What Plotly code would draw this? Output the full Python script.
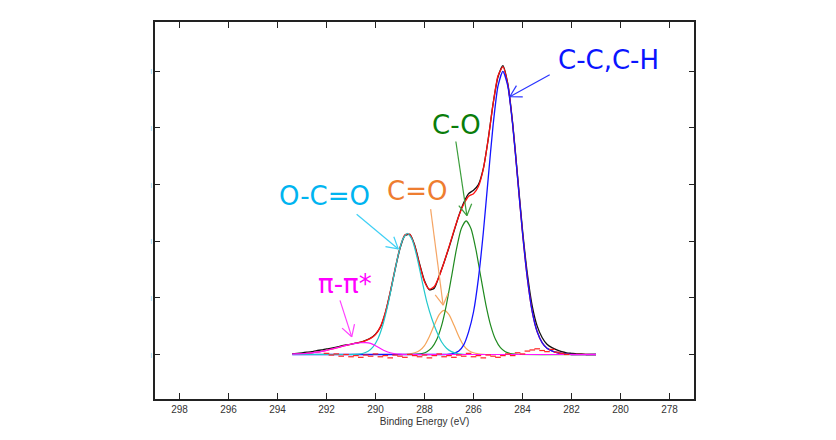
import math
import plotly.graph_objects as go

# ---------------- data ----------------
energy = [293.4, 293.2, 293.0, 292.8, 292.6, 292.4, 292.2, 292.0, 291.8, 291.6,
          291.4, 291.2, 291.0, 290.8, 290.6, 290.4, 290.2, 290.0, 289.8, 289.6,
          289.4, 289.2, 289.0, 288.8, 288.6, 288.4, 288.2, 288.0, 287.8, 287.6,
          287.4, 287.2, 287.0, 286.8, 286.6, 286.4, 286.2, 286.0, 285.8, 285.6,
          285.4, 285.2, 285.0, 284.8, 284.6, 284.4, 284.2, 284.0, 283.8, 283.6,
          283.4, 283.2, 283.0, 282.8, 282.6, 282.4, 282.2, 282.0, 281.8, 281.6,
          281.4, 281.2, 281.0]

measured = [0.01, 0.02, 0.03, 0.04, 0.05, 0.07, 0.08, 0.10, 0.11, 0.13,
            0.15, 0.17, 0.18, 0.20, 0.22, 0.25, 0.29, 0.36, 0.48, 0.73,
            1.09, 1.50, 1.87, 2.10, 2.12, 1.93, 1.60, 1.30, 1.14, 1.17,
            1.39, 1.63, 1.89, 2.17, 2.45, 2.68, 2.84, 2.90, 3.00, 3.28,
            3.80, 4.43, 4.90, 5.10, 4.78, 4.08, 3.15, 2.20, 1.42, 0.85,
            0.50, 0.30, 0.18, 0.12, 0.08, 0.05, 0.03, 0.02, 0.01, 0.01,
            0.00, 0.00, 0.00]

fit_envelope = [0.005, 0.009, 0.013, 0.020, 0.029, 0.041, 0.056, 0.074, 0.094, 0.116,
                0.139, 0.162, 0.181, 0.201, 0.220, 0.246, 0.284, 0.350, 0.492, 0.742,
                1.101, 1.515, 1.889, 2.114, 2.122, 1.917, 1.582, 1.285, 1.153, 1.200,
                1.380, 1.628, 1.900, 2.184, 2.444, 2.651, 2.795, 2.838, 2.966, 3.274,
                3.798, 4.425, 4.920, 5.077, 4.769, 4.060, 3.113, 2.150, 1.340, 0.750,
                0.400, 0.210, 0.110, 0.065, 0.035, 0.018, 0.008, 0.0, 0.0, 0.0,
                0.0, 0.0, 0.0]

residual = [None, None, None, None, None, None, None, 0.02, -0.01, 0.01,
            -0.03, 0.00, -0.04, -0.02, -0.05, -0.01, -0.03, 0.01, -0.04, -0.02,
            -0.06, -0.01, -0.03, -0.05, 0.00, -0.02, -0.04, -0.01, -0.06, -0.02,
            0.01, -0.04, -0.02, -0.05, -0.01, -0.03, 0.02, -0.04, -0.02, -0.06,
            -0.01, -0.03, -0.05, -0.02, 0.01, -0.02, 0.03, 0.01, 0.06, 0.08,
            0.10, 0.07, 0.05, 0.09, 0.04, 0.02, 0.00, None, None, None,
            None, None, None]

cc_energy = [293.4, 287.2, 287.0, 286.8, 286.6, 286.4, 286.2, 286.0, 285.8, 285.6,
             285.4, 285.2, 285.0, 284.8, 284.6, 284.4, 284.2, 284.0, 283.8, 283.6,
             283.4, 283.2, 283.0, 282.8, 282.6, 282.4, 282.2, 282.0, 281.0]
cc_counts = [0, 0, 0.005, 0.02, 0.06, 0.17, 0.40, 0.75, 1.34, 2.15,
             3.11, 4.05, 4.74, 5.00, 4.74, 4.05, 3.11, 2.15, 1.34, 0.75,
             0.40, 0.21, 0.11, 0.065, 0.035, 0.018, 0.008, 0, 0]

co_energy = [293.4, 288.5, 288.3, 288.1, 287.9, 287.7, 287.5, 287.3, 287.1, 286.9,
             286.7, 286.5, 286.3, 286.1, 285.9, 285.7, 285.5, 285.3, 285.1, 284.9,
             284.7, 284.5, 284.3, 284.1, 281.0]
co_counts = [0, 0, 0.005, 0.017, 0.048, 0.120, 0.264, 0.515, 0.891, 1.365,
             1.85, 2.22, 2.36, 2.22, 1.85, 1.365, 0.891, 0.515, 0.264, 0.120,
             0.048, 0.017, 0.005, 0, 0]

c_o_energy = [293.4, 289.0, 288.8, 288.6, 288.4, 288.2, 288.0, 287.8, 287.6, 287.4,
              287.2, 287.0, 286.8, 286.6, 286.4, 286.2, 286.0, 285.8, 285.6, 285.4,
              281.0]
c_o_counts = [0, 0, 0.004, 0.012, 0.03, 0.07, 0.156, 0.316, 0.52, 0.705,
              0.78, 0.705, 0.52, 0.316, 0.156, 0.07, 0.03, 0.012, 0.004, 0,
              0]

occ_energy = [293.4, 291.1, 290.9, 290.7, 290.5, 290.3, 290.1, 289.9, 289.7, 289.5,
              289.3, 289.1, 288.9, 288.7, 288.5, 288.3, 288.1, 287.9, 287.7, 287.5,
              287.3, 287.1, 286.9, 286.7, 286.5, 286.3, 281.0]
occ_counts = [0, 0, 0.003, 0.0075, 0.022, 0.057, 0.134, 0.279, 0.520, 0.865,
              1.286, 1.707, 2.022, 2.14, 2.022, 1.707, 1.30, 0.92, 0.63, 0.40,
              0.22, 0.11, 0.05, 0.02, 0.005, 0, 0]

pi_energy = [293.4, 293.2, 293.0, 292.8, 292.6, 292.4, 292.2, 292.0, 291.8, 291.6,
             291.4, 291.2, 291.0, 290.8, 290.6, 290.4, 290.2, 290.0, 289.8, 289.6,
             289.4, 289.2, 289.0, 288.8, 281.0]
pi_counts = [0.005, 0.009, 0.013, 0.020, 0.029, 0.041, 0.056, 0.074, 0.094, 0.116,
             0.139, 0.162, 0.181, 0.197, 0.207, 0.210, 0.195, 0.154, 0.105, 0.061,
             0.031, 0.013, 0.005, 0, 0]

x_ticks = [298, 296, 294, 292, 290, 288, 286, 284, 282, 280, 278]
y_ticks = [0, 1, 2, 3, 4, 5]

# ---------------- figure ----------------
W, H = 836, 440
ML, MR, MT, MB = 147, 150, 12, 49   # page body adds an 8px offset
X_RANGE = [299, 277]
Y_RANGE = [-0.786, 5.87]
sx = (W - ML - MR) / (X_RANGE[0] - X_RANGE[1])
sy = (H - MT - MB) / (Y_RANGE[1] - Y_RANGE[0])

fig = go.Figure()

def line_trace(x, y, color, width=1.3):
    fig.add_trace(go.Scatter(x=x, y=y, mode="lines",
                             line=dict(color=color, width=width, shape="spline", smoothing=0.6),
                             hoverinfo="skip", showlegend=False))

line_trace(energy, measured, "#111111", 1.3)
line_trace(energy, fit_envelope, "#ff1010", 1.3)
line_trace(c_o_energy, c_o_counts, "#f5a55a", 1.2)
line_trace(co_energy, co_counts, "#1f8a1f", 1.2)
line_trace(cc_energy, cc_counts, "#1414ff", 1.3)
line_trace(occ_energy, occ_counts, "#22c8cc", 1.2)
line_trace(pi_energy, pi_counts, "#ff14ff", 1.2)

fig.add_trace(go.Scatter(x=energy, y=residual, mode="markers",
                         marker=dict(symbol="line-ew", size=4,
                                     line=dict(color="#ff2020", width=1.2)),
                         hoverinfo="skip", showlegend=False))

shapes = []
def arrow(x0, y0, x1, y1, color):
    shapes.append(dict(type="line", xref="x", yref="y", x0=x0, y0=y0, x1=x1, y1=y1,
                       line=dict(color=color, width=1.2)))
    dxp = -(x0 - x1) * sx
    dyp = -(y0 - y1) * sy
    L = math.hypot(dxp, dyp)
    ux, uy = dxp / L, dyp / L
    for a in (math.radians(30), math.radians(-30)):
        rx = ux * math.cos(a) - uy * math.sin(a)
        ry = ux * math.sin(a) + uy * math.cos(a)
        xe = x1 - rx * 13 / sx
        ye = y1 - ry * 13 / sy
        shapes.append(dict(type="line", xref="x", yref="y", x0=x1, y0=y1, x1=xe, y1=ye,
                           line=dict(color=color, width=1.2)))

arrow(282.89, 4.94, 284.52, 4.55, "#2a35ff")
arrow(286.72, 3.76, 286.27, 2.45, "#3a9d3a")
arrow(287.75, 2.565, 287.24, 0.87, "#f5a565")
arrow(290.77, 2.477, 289.07, 1.863, "#3fd0f5")
arrow(291.45, 0.956, 290.97, 0.312, "#ff40ff")

labels = [
    ("C-C,C-H", 280.48, 5.20, "#0a14ff"),
    ("C-O", 286.70, 4.06, "#0a7d0a"),
    ("C=O", 288.29, 2.886, "#ee7d30"),
    ("O-C=O", 292.08, 2.80, "#00b4f0"),
    ("π-π*", 291.25, 1.237, "#ff00ff"),
]
annotations = [dict(text=t, x=x, y=y, xref="x", yref="y", showarrow=False,
                    font=dict(family="DejaVu Sans", size=26, color=c))
               for t, x, y, c in labels]

fig.update_layout(
    width=W, height=H,
    margin=dict(l=ML, r=MR, t=MT, b=MB, pad=0),
    paper_bgcolor="white", plot_bgcolor="white",
    shapes=shapes, annotations=annotations,
    showlegend=False,
)
fig.update_xaxes(range=X_RANGE, tickvals=x_ticks, ticktext=[str(v) for v in x_ticks],
                 ticks="inside", ticklen=6, tickwidth=1, tickcolor="#222",
                 showline=True, linecolor="#222", linewidth=1.5, mirror="ticks",
                 showgrid=False, zeroline=False,
                 tickfont=dict(family="Liberation Sans", size=10, color="#333"),
                 title=dict(text="Binding Energy (eV)", standoff=4,
                            font=dict(family="Liberation Sans", size=10, color="#333")))
fig.update_yaxes(range=Y_RANGE, tickvals=y_ticks, ticktext=["|"] * len(y_ticks),
                 ticks="inside", ticklen=5, tickwidth=1, tickcolor="#222",
                 showline=True, linecolor="#222", linewidth=1.5, mirror="ticks",
                 showgrid=False, zeroline=False,
                 tickfont=dict(family="Liberation Sans", size=6, color="#5ac4f0"))

fig.write_html("out.html")
